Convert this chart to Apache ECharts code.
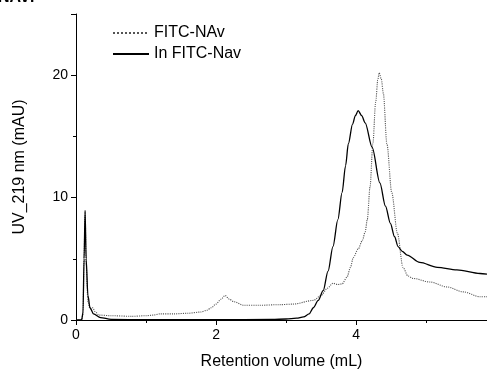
<!DOCTYPE html>
<html>
<head>
<meta charset="utf-8">
<script src="https://cdn.jsdelivr.net/npm/echarts@6/dist/echarts.min.js"></script>
<style>
  html, body { margin: 0; padding: 0; background: #fff; }
  #chart { width: 487px; height: 369px; }
</style>
</head>
<body>
<div id="chart"></div>
<script>
// retention volume (mL) vs UV_219 (mAU)
const fitcNav = [
  [0, 0], [0.08, 0], [0.1, 0.5], [0.115, 5], [0.13, 9.0], [0.145, 4.5], [0.17, 1.5],
  [0.2, 0.9], [0.24, 1.0], [0.27, 0.7], [0.33, 0.4], [0.5, 0.35], [0.8, 0.3], [1.0, 0.35],
  [1.1, 0.4], [1.2, 0.5], [1.4, 0.5], [1.6, 0.55], [1.78, 0.65], [1.87, 0.8], [1.93, 1.0],
  [2.0, 1.3], [2.07, 1.7], [2.13, 2.0], [2.19, 1.7], [2.25, 1.5], [2.4, 1.2], [2.6, 1.2],
  [2.9, 1.25], [3.1, 1.3], [3.39, 1.6], [3.5, 2.0], [3.59, 2.6], [3.67, 3.0], [3.74, 2.9],
  [3.8, 2.95], [3.87, 3.5], [3.92, 4.3], [3.96, 5.1], [4.03, 5.8], [4.09, 6.5], [4.13, 7.2],
  [4.16, 8.2], [4.2, 10.9], [4.24, 14.4], [4.28, 17.8], [4.31, 19.6], [4.33, 20.2],
  [4.36, 19.7], [4.39, 18.5], [4.44, 14.4], [4.51, 10.4], [4.59, 7.1], [4.67, 4.3],
  [4.74, 3.6], [4.81, 3.4], [5.06, 3.1], [5.3, 2.7], [5.53, 2.3], [5.77, 1.9], [5.87, 1.9]
];
const inFitcNav = [
  [0, 0], [0.08, 0], [0.1, 0.6], [0.115, 5], [0.13, 8.9], [0.145, 5], [0.17, 2], [0.2, 1.0],
  [0.25, 0.5], [0.35, 0.2], [0.5, 0.05], [1, 0.02], [2, 0.02], [2.8, 0.04], [3.0, 0.08],
  [3.15, 0.15], [3.25, 0.25], [3.33, 0.5], [3.39, 1.0], [3.46, 1.6], [3.53, 2.4], [3.6, 4.0],
  [3.67, 6.0], [3.74, 8.2], [3.8, 10.4], [3.85, 12.6], [3.89, 14.4], [3.95, 16.0],
  [3.99, 16.7], [4.03, 17.1], [4.08, 16.7], [4.13, 16.1], [4.23, 14.1], [4.34, 11.2],
  [4.42, 9.3], [4.49, 7.9], [4.55, 6.8], [4.6, 6.0], [4.66, 5.6], [4.73, 5.3], [4.91, 4.7],
  [5.16, 4.3], [5.44, 4.1], [5.77, 3.8], [5.87, 3.75]
];
const seriesNames = ["FITC-NAv", "In FITC-Nav"];
const xMax = 5.87;
const yMax = 25;

const chart = echarts.init(document.getElementById("chart"));
const font = "Liberation Sans, Arial, sans-serif";
const black = "#000";

const baseX = {
  type: "value", min: 0, max: xMax, position: "bottom",
  axisLine: { show: true, onZero: false, lineStyle: { color: black, width: 1 } },
  splitLine: { show: false }
};
const baseY = {
  type: "value", min: 0, max: yMax, position: "left",
  axisLine: { show: true, onZero: false, lineStyle: { color: black, width: 1 } },
  splitLine: { show: false }
};

chart.setOption({
  animation: false,
  textStyle: { fontFamily: font },
  graphic: [{
    type: "text", left: -2, top: -10,
    style: { text: "NAv:", font: "bold 16px " + font, fill: black }
  }],
  legend: {
    orient: "vertical", left: 112, top: 25, padding: 0,
    itemWidth: 36, itemHeight: 14, itemGap: 5,
    data: seriesNames,
    itemStyle: { opacity: 0 },
    textStyle: { fontSize: 16, color: black, fontFamily: font }
  },
  grid: { left: 76, right: 0, top: 14, bottom: 49, outerBoundsMode: "none" },
  xAxis: [
    Object.assign({}, baseX, {
      interval: 2,
      name: "Retention volume (mL)", nameLocation: "middle", nameGap: 34,
      nameTextStyle: { fontSize: 16, color: black },
      axisTick: { show: true, inside: false, length: 5, lineStyle: { color: black } },
      axisLabel: {
        fontSize: 14, color: black, margin: 8,
        formatter: v => (v % 2 === 0 ? String(v) : "")
      }
    }),
    Object.assign({}, baseX, {
      interval: 1,
      axisLine: { show: false },
      axisTick: { show: true, length: 3, lineStyle: { color: black } },
      axisLabel: { show: false }
    })
  ],
  yAxis: [
    Object.assign({}, baseY, {
      interval: 10,
      name: "UV_219 nm (mAU)", nameLocation: "middle", nameGap: 48,
      nameTextStyle: { fontSize: 16, color: black },
      axisTick: { show: true, length: 5, lineStyle: { color: black } },
      axisLabel: {
        fontSize: 14, color: black, margin: 8,
        formatter: v => (v % 10 === 0 ? String(v) : "")
      }
    }),
    Object.assign({}, baseY, {
      interval: 5,
      axisLine: { show: false },
      axisTick: { show: true, length: 3, lineStyle: { color: black } },
      axisLabel: { show: false }
    })
  ],
  series: [
    {
      name: seriesNames[0], type: "line", data: fitcNav,
      symbol: "none", smooth: 0.3, smoothMonotone: "x",
      lineStyle: { color: "#555", width: 1.1, type: "dotted" },
      itemStyle: { color: "#555" }
    },
    {
      name: seriesNames[1], type: "line", data: inFitcNav,
      symbol: "none", smooth: 0.3, smoothMonotone: "x",
      lineStyle: { color: black, width: 1.3, type: "solid" },
      itemStyle: { color: black }
    }
  ]
});
</script>
</body>
</html>
